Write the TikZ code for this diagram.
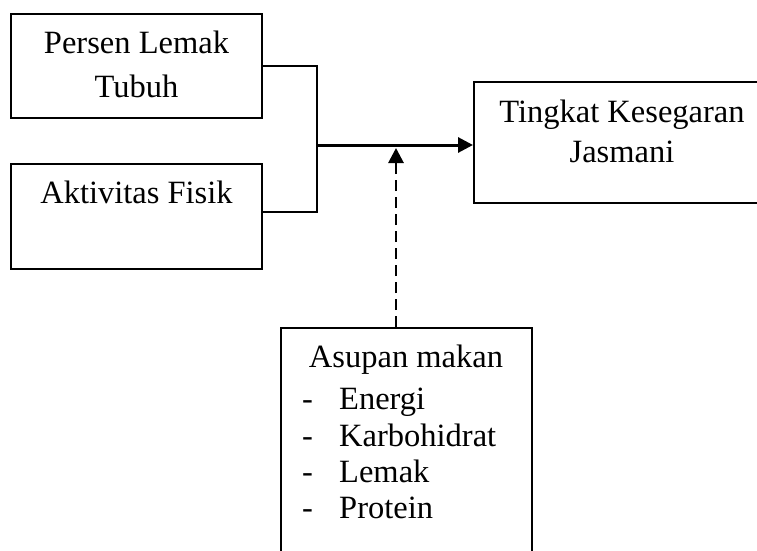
\documentclass[tikz,border=0pt]{standalone}
\usepackage{fontspec}
\setmainfont{Liberation Serif}
\usetikzlibrary{arrows.meta}
\begin{document}
\begin{tikzpicture}[x=1pt,y=-1pt,
  boxst/.style={draw,line width=2pt,inner sep=0pt,rectangle},
  txt/.style={inner sep=0pt,font=\fontsize{32.5}{32.5}\selectfont},
  conn/.style={line width=2pt},
  mainarrow/.style={line width=3pt,-{Triangle[length=15pt,width=15pt]}},
  dasharrow/.style={line width=2.8pt,dash pattern=on 11pt off 6pt,-{Triangle[length=15pt,width=15pt]}}]
\useasboundingbox (0,0) rectangle (757,551);
\clip (0,0) rectangle (757,551);
\node[boxst,minimum width=251pt,minimum height=104pt] (b1) at (136.5,66) {};
\node[boxst,minimum width=251pt,minimum height=105pt] (b2) at (136.5,216.5) {};
\node[boxst,minimum width=296pt,minimum height=121pt] (b3) at (622,142.5) {};
\node[boxst,minimum width=251pt,minimum height=240pt] (b4) at (406.5,448) {};
% texts
\node[txt,anchor=base] (t1a) at (136.5,54) {Persen Lemak};
\node[txt,anchor=base] (t1b) at (136.5,97) {Tubuh};
\node[txt,anchor=base] (t2) at (136.5,203) {Aktivitas Fisik};
\node[txt,anchor=base] (t3a) at (622,122) {Tingkat Kesegaran};
\node[txt,anchor=base] (t3b) at (622,162) {Jasmani};
\node[txt,anchor=base] (t4) at (406,367) {Asupan makan};
\node[txt,anchor=base west] (l1) at (302,409) {\makebox[37pt][l]{-}Energi};
\node[txt,anchor=base west] (l2) at (302,446) {\makebox[37pt][l]{-}Karbohidrat};
\node[txt,anchor=base west] (l3) at (302,482) {\makebox[37pt][l]{-}Lemak};
\node[txt,anchor=base west] (l4) at (302,518) {\makebox[37pt][l]{-}Protein};
% connectors
\coordinate (j1) at (317,66);
\coordinate (j2) at (317,212);
\coordinate (jm) at (317,145);
\coordinate (dt) at (396,148);
\draw[conn] (b1.east |- j1) -- (j1) -- (j2) -- (b2.east |- j2);
\draw[mainarrow] (jm) -- (b3.west |- jm);
\draw[dasharrow] (b4.north -| dt) -- (dt);
\end{tikzpicture}
\end{document}
